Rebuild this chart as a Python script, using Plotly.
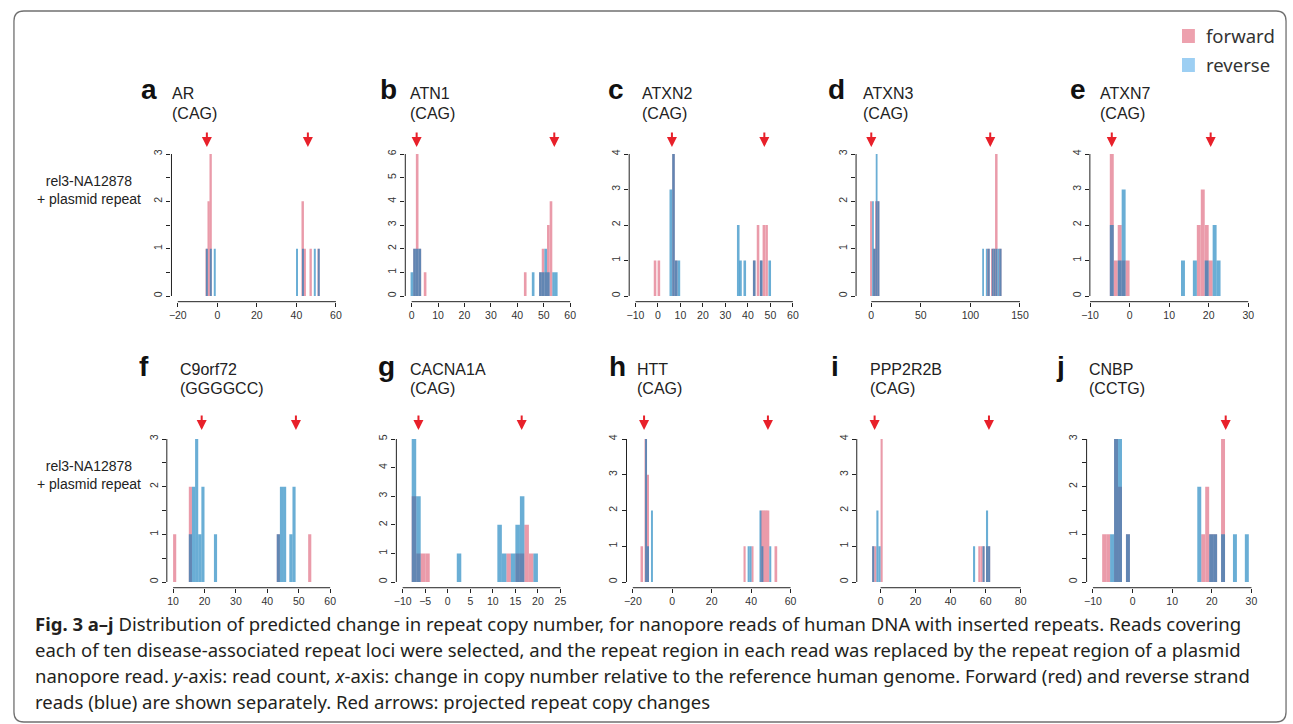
import plotly.graph_objects as go

W, H = 1293, 724

# ---------------- data ----------------
letters = ["a", "b", "c", "d", "e", "f", "g", "h", "i", "j"]
genes = ["AR", "ATN1", "ATXN2", "ATXN3", "ATXN7", "C9orf72", "CACNA1A", "HTT", "PPP2R2B", "CNBP"]
motifs = ["(CAG)", "(CAG)", "(CAG)", "(CAG)", "(CAG)", "(GGGGCC)", "(CAG)", "(CAG)", "(CAG)", "(CCTG)"]
series_names = ["forward", "reverse"]
sample_label = "rel3-NA12878<br>+ plasmid repeat"

bin_width = [1, 1, 1.15, 1.8, 1, 1, 1, 1, 1.2, 1]
x_limits = [[-20, 60], [0, 60], [-10, 60], [-9, 150], [-8.5, 30],
            [10, 60], [-10, 25], [-20, 60], [-10, 80], [-10, 30]]
x_ticks = [[-20, 0, 20, 40, 60], [0, 10, 20, 30, 40, 50, 60], [-10, 0, 10, 20, 30, 40, 50, 60],
           [0, 50, 100, 150], [-10, 0, 10, 20, 30], [10, 20, 30, 40, 50, 60],
           [-10, -5, 0, 5, 10, 15, 20, 25], [-20, 0, 20, 40, 60], [0, 20, 40, 60, 80],
           [-10, 0, 10, 20, 30]]
y_max = [3, 6, 4, 3, 4, 3, 5, 4, 4, 3]
y_step = [0.5, 1, 1, 0.5, 1, 0.5, 1, 1, 1, 0.5]
arrow_x = [[-5.3, 45.8], [1.9, 54], [6.2, 47.3], [0, 120], [-4.5, 20.5],
           [19.1, 49.1], [-6.5, 16.4], [-14.3, 48.5], [-3.4, 61.9], [23.5]]

# histogram bins (centre, count) per panel, forward / reverse strand
a_fwd_x = [-5.3, -4.3, -3.3, 43.3, 44.3, 47.3, 51.3]
a_fwd_n = [1, 2, 3, 2, 1, 1, 1]
a_rev_x = [-5.3, -3.3, -1.3, 40.3, 43.3, 49.3, 51.3]
a_rev_n = [1, 1, 1, 1, 1, 1, 1]

b_fwd_x = [1.1, 2.1, 3.1, 5.1, 43.0, 48.75, 49.75, 50.75, 51.75, 52.75]
b_fwd_n = [2, 6, 2, 1, 1, 1, 2, 1, 3, 4]
b_rev_x = [0.1, 1.1, 2.1, 3.1, 46.0, 48.75, 49.75, 50.75, 51.75, 53.75, 54.75]
b_rev_n = [1, 2, 2, 2, 1, 1, 1, 2, 1, 1, 1]

c_fwd_x = [-1.3, 0.4, 6.9, 8.1, 42.8, 44.5, 45.9, 47.1, 48.3]
c_fwd_n = [1, 1, 4, 1, 1, 2, 1, 2, 2]
c_rev_x = [5.7, 6.9, 8.1, 9.3, 35.7, 36.7, 38.6, 42.8, 45.9, 49.7]
c_rev_n = [3, 4, 1, 1, 2, 1, 1, 1, 1, 1]

d_fwd_x = [-0.1, 3.5, 5.4, 7.3, 118.6, 122.5, 124.5, 126.5, 130.5]
d_fwd_n = [2, 1, 2, 2, 1, 1, 1, 3, 1]
d_rev_x = [1.7, 3.5, 5.4, 7.3, 112.8, 116.5, 118.6, 122.5, 124.5, 126.5, 128.5, 130.5]
d_rev_n = [2, 1, 3, 2, 1, 1, 1, 1, 1, 1, 1, 1]

e_fwd_x = [-4.5, -3.5, -2.5, -1.5, -0.5, 17.5, 18.5, 19.5, 20.5]
e_fwd_n = [4, 1, 2, 1, 1, 2, 3, 2, 1]
e_rev_x = [-4.5, -2.5, -1.5, 13.5, 16.5, 19.5, 21.5, 22.5]
e_rev_n = [2, 1, 3, 1, 1, 1, 2, 1]

f_fwd_x = [10.5, 15.5, 43.5, 53.5]
f_fwd_n = [1, 2, 1, 1]
f_rev_x = [15.5, 16.5, 17.5, 18.5, 19.5, 23.5, 43.5, 44.5, 45.5, 47.5, 48.5]
f_rev_n = [1, 2, 3, 1, 2, 1, 1, 2, 2, 1, 2]

g_fwd_x = [-7.5, -6.5, -5.5, -4.5, 13.5, 15.5, 16.5, 17.5, 18.5]
g_fwd_n = [3, 1, 1, 1, 1, 1, 1, 2, 1]
g_rev_x = [-7.5, -6.5, 2.5, 11.5, 12.5, 14.5, 15.5, 16.5, 19.5]
g_rev_n = [5, 3, 1, 2, 1, 1, 2, 3, 1]

h_fwd_x = [-15.3, -13.3, -12.3, 36.7, 40.7, 45.7, 46.7, 47.7, 48.7, 52.7]
h_fwd_n = [1, 4, 3, 1, 1, 2, 2, 2, 2, 1]
h_rev_x = [-13.3, -12.3, -10.3, 38.7, 39.7, 44.7, 45.7, 49.7]
h_rev_n = [4, 1, 2, 1, 1, 2, 1, 1]

i_fwd_x = [-4.2, -3.0, 0.6, 56.4, 57.6, 58.8, 60.8, 62.0]
i_fwd_n = [1, 1, 4, 1, 1, 1, 1, 1]
i_rev_x = [-4.2, -1.8, -0.6, 53.4, 58.8, 60.8, 62.0]
i_rev_n = [1, 2, 1, 1, 1, 2, 1]

j_fwd_x = [-7.17, -6.17, -4.17, -3.17, -1.17, 17.83, 18.83, 19.83, 20.83, 22.83]
j_fwd_n = [1, 1, 3, 2, 1, 1, 2, 1, 1, 3]
j_rev_x = [-5.17, -4.17, -3.17, -1.17, 16.83, 19.83, 20.83, 22.83, 25.83, 28.83]
j_rev_n = [1, 3, 3, 1, 2, 1, 1, 1, 1, 1]

fwd_data = [(a_fwd_x, a_fwd_n), (b_fwd_x, b_fwd_n), (c_fwd_x, c_fwd_n), (d_fwd_x, d_fwd_n),
            (e_fwd_x, e_fwd_n), (f_fwd_x, f_fwd_n), (g_fwd_x, g_fwd_n), (h_fwd_x, h_fwd_n),
            (i_fwd_x, i_fwd_n), (j_fwd_x, j_fwd_n)]
rev_data = [(a_rev_x, a_rev_n), (b_rev_x, b_rev_n), (c_rev_x, c_rev_n), (d_rev_x, d_rev_n),
            (e_rev_x, e_rev_n), (f_rev_x, f_rev_n), (g_rev_x, g_rev_n), (h_rev_x, h_rev_n),
            (i_rev_x, i_rev_n), (j_rev_x, j_rev_n)]

caption_lines = [
    "<b>Fig. 3 a\u2013j</b> Distribution of predicted change in repeat copy number, for nanopore reads of human DNA with inserted repeats. Reads covering",
    "each of ten disease-associated repeat loci were selected, and the repeat region in each read was replaced by the repeat region of a plasmid",
    "nanopore read. <i>y</i>-axis: read count, <i>x</i>-axis: change in copy number relative to the reference human genome. Forward (red) and reverse strand",
    "reads (blue) are shown separately. Red arrows: projected repeat copy changes",
]

# ---------------- layout (pixels) ----------------
col_left = [164, 400, 626, 855, 1091, 159.3, 391, 623.3, 855.7, 1087.7]
col_width = [172.4, 172.8, 171.6, 171.8, 166, 171.2, 172, 172, 171.8, 172.8]
row_top_tick = [154, 439]      # pixel of y = max tick
row_zero = [296, 582]          # pixel of y = 0
arrow_tip = [147, 430]
letter_pos = [(131, 90), (372, 90), (603, 90), (825, 90), (1069, 90),
              (129, 366), (370, 366), (604, 366), (828, 366), (1055, 366)]
gene_pos = [(163, 94), (403, 94), (637, 94), (860, 94), (1099, 94),
            (171, 369), (403, 369), (632, 369), (867, 369), (1088, 369)]
motif_dy = 19

FWD_COL = "#EA9BAA"
REV_COL = "rgba(7,120,185,0.60)"
AX_COL = "#222222"
TICK_FONT = dict(family="Liberation Sans, Arial, sans-serif", size=10.5, color="#333333")


def px(x):
    return x / W


def py(y):
    return 1 - y / H


fig = go.Figure()
layout = dict(
    width=W, height=H, autosize=False,
    margin=dict(l=0, r=0, t=0, b=0),
    paper_bgcolor="white", plot_bgcolor="white",
    barmode="overlay", showlegend=False,
)
shapes = []
annotations = []

for k in range(10):
    row = 0 if k < 5 else 1
    sfx = "" if k == 0 else str(k + 1)
    xa, ya = "x" + sfx, "y" + sfx

    lo, hi = x_limits[k]
    pad = 0.04 * (hi - lo)
    xr = [lo - pad, hi + pad]
    ym = y_max[k]
    yr = [-0.04 * ym, 1.04 * ym]
    span_px = row_zero[row] - row_top_tick[row]
    top_px = row_top_tick[row] - 0.04 * span_px
    bot_px = row_zero[row] + 0.04 * span_px
    left_px = col_left[k]
    right_px = col_left[k] + col_width[k]

    fx, fn = fwd_data[k]
    rx, rn = rev_data[k]
    fig.add_trace(go.Bar(x=fx, y=fn, width=bin_width[k], name=series_names[0],
                         marker=dict(color=FWD_COL, line=dict(width=0)),
                         xaxis=xa, yaxis=ya))
    fig.add_trace(go.Bar(x=rx, y=rn, width=bin_width[k], name=series_names[1],
                         marker=dict(color=REV_COL, line=dict(width=0)),
                         xaxis=xa, yaxis=ya))

    nsteps = int(round(ym / y_step[k]))
    yt = [i * y_step[k] for i in range(nsteps + 1)]
    ytext = [str(int(v)) if abs(v - round(v)) < 1e-9 else "" for v in yt]

    layout["xaxis" + sfx] = dict(
        domain=[px(left_px), px(right_px)], range=xr, anchor=ya,
        tickmode="array", tickvals=x_ticks[k],
        ticktext=[("\u2212" + str(-v)) if v < 0 else str(v) for v in x_ticks[k]],
        ticks="outside", ticklen=4, tickwidth=1, tickcolor=AX_COL,
        showline=False, showgrid=False, zeroline=False, tickfont=TICK_FONT,
        fixedrange=True,
    )
    layout["yaxis" + sfx] = dict(
        domain=[py(bot_px), py(top_px)], range=yr, anchor=xa,
        tickmode="array", tickvals=yt, ticktext=ytext, tickangle=-90,
        ticks="outside", ticklen=4, tickwidth=1, tickcolor=AX_COL,
        showline=False, showgrid=False, zeroline=False, tickfont=TICK_FONT,
        fixedrange=True,
    )
    # R-style axis lines spanning first..last tick
    shapes.append(dict(type="line", xref=xa, yref="paper",
                       x0=x_ticks[k][0], x1=x_ticks[k][-1], y0=py(bot_px), y1=py(bot_px),
                       line=dict(color=AX_COL, width=1)))
    shapes.append(dict(type="line", xref="paper", yref=ya,
                       x0=px(left_px), x1=px(left_px), y0=0, y1=ym,
                       line=dict(color=AX_COL, width=1)))

    # projected repeat copy change arrows
    for ax_val in arrow_x[k]:
        annotations.append(dict(
            x=ax_val, y=py(arrow_tip[row]), xref=xa, yref="paper",
            text="", showarrow=True, ax=0, ay=-16, axref="pixel", ayref="pixel",
            arrowhead=2, arrowsize=1, arrowwidth=2, arrowcolor="#E8202A", standoff=0,
        ))

    # panel letter, gene and motif
    lx, ly = letter_pos[k]
    annotations.append(dict(x=px(lx), y=py(ly), xref="paper", yref="paper",
                            text="<b>" + letters[k] + "</b>", showarrow=False,
                            xanchor="left", yanchor="middle",
                            font=dict(family="Liberation Sans, Arial, sans-serif", size=28, color="#111111")))
    gx, gy = gene_pos[k]
    annotations.append(dict(x=px(gx), y=py(gy), xref="paper", yref="paper",
                            text=genes[k], showarrow=False, xanchor="left", yanchor="middle",
                            font=dict(family="Liberation Sans, Arial, sans-serif", size=16, color="#222222")))
    annotations.append(dict(x=px(gx), y=py(gy + motif_dy), xref="paper", yref="paper",
                            text=motifs[k], showarrow=False, xanchor="left", yanchor="middle",
                            font=dict(family="Liberation Sans, Arial, sans-serif", size=16, color="#222222")))

# sample labels on the left of each row
for yc in [190, 475]:
    annotations.append(dict(x=px(81), y=py(yc), xref="paper", yref="paper",
                            text=sample_label, showarrow=False, xanchor="center", yanchor="middle",
                            align="center",
                            font=dict(family="Liberation Sans, Arial, sans-serif", size=14, color="#222222")))

# legend (manual, top right)
legend_cols = ["#EDA1AE", "#9DCFF3"]
for i, (nm, col) in enumerate(zip(series_names, legend_cols)):
    yc = 36 + 29 * i
    shapes.append(dict(type="rect", xref="paper", yref="paper",
                       x0=px(1184), x1=px(1197), y0=py(yc + 7), y1=py(yc - 7),
                       fillcolor=col, line=dict(width=0)))
    annotations.append(dict(x=px(1206), y=py(yc), xref="paper", yref="paper", text=nm,
                            showarrow=False, xanchor="left", yanchor="middle",
                            font=dict(family="Noto Sans, sans-serif", size=18.5, color="#333333")))

# caption
for i, line in enumerate(caption_lines):
    annotations.append(dict(x=px(24), y=py(623 + 26.3 * i), xref="paper", yref="paper",
                            text=line, showarrow=False, xanchor="left", yanchor="middle",
                            font=dict(family="Noto Sans, sans-serif", size=18.5, color="#231F20")))

# rounded frame
x0, y0, x1, y2, r = 5, 11, 1289, 722, 10
path = (f"M {px(x0)},{py(y2 - r)} L {px(x0)},{py(y0 + r)} Q {px(x0)},{py(y0)} {px(x0 + r)},{py(y0)} "
        f"L {px(x1 - r)},{py(y0)} Q {px(x1)},{py(y0)} {px(x1)},{py(y0 + r)} "
        f"L {px(x1)},{py(y2 - r)} Q {px(x1)},{py(y2)} {px(x1 - r)},{py(y2)} "
        f"L {px(x0 + r)},{py(y2)} Q {px(x0)},{py(y2)} {px(x0)},{py(y2 - r)} Z")
shapes.append(dict(type="path", xref="paper", yref="paper", path=path,
                   line=dict(color="#707070", width=1.3), layer="below"))

layout["shapes"] = shapes
layout["annotations"] = annotations
fig.update_layout(**layout)
fig.write_html("out.html",
               config={"displayModeBar": False},
               post_script="document.body.style.margin='0';document.body.style.overflow='hidden';")
